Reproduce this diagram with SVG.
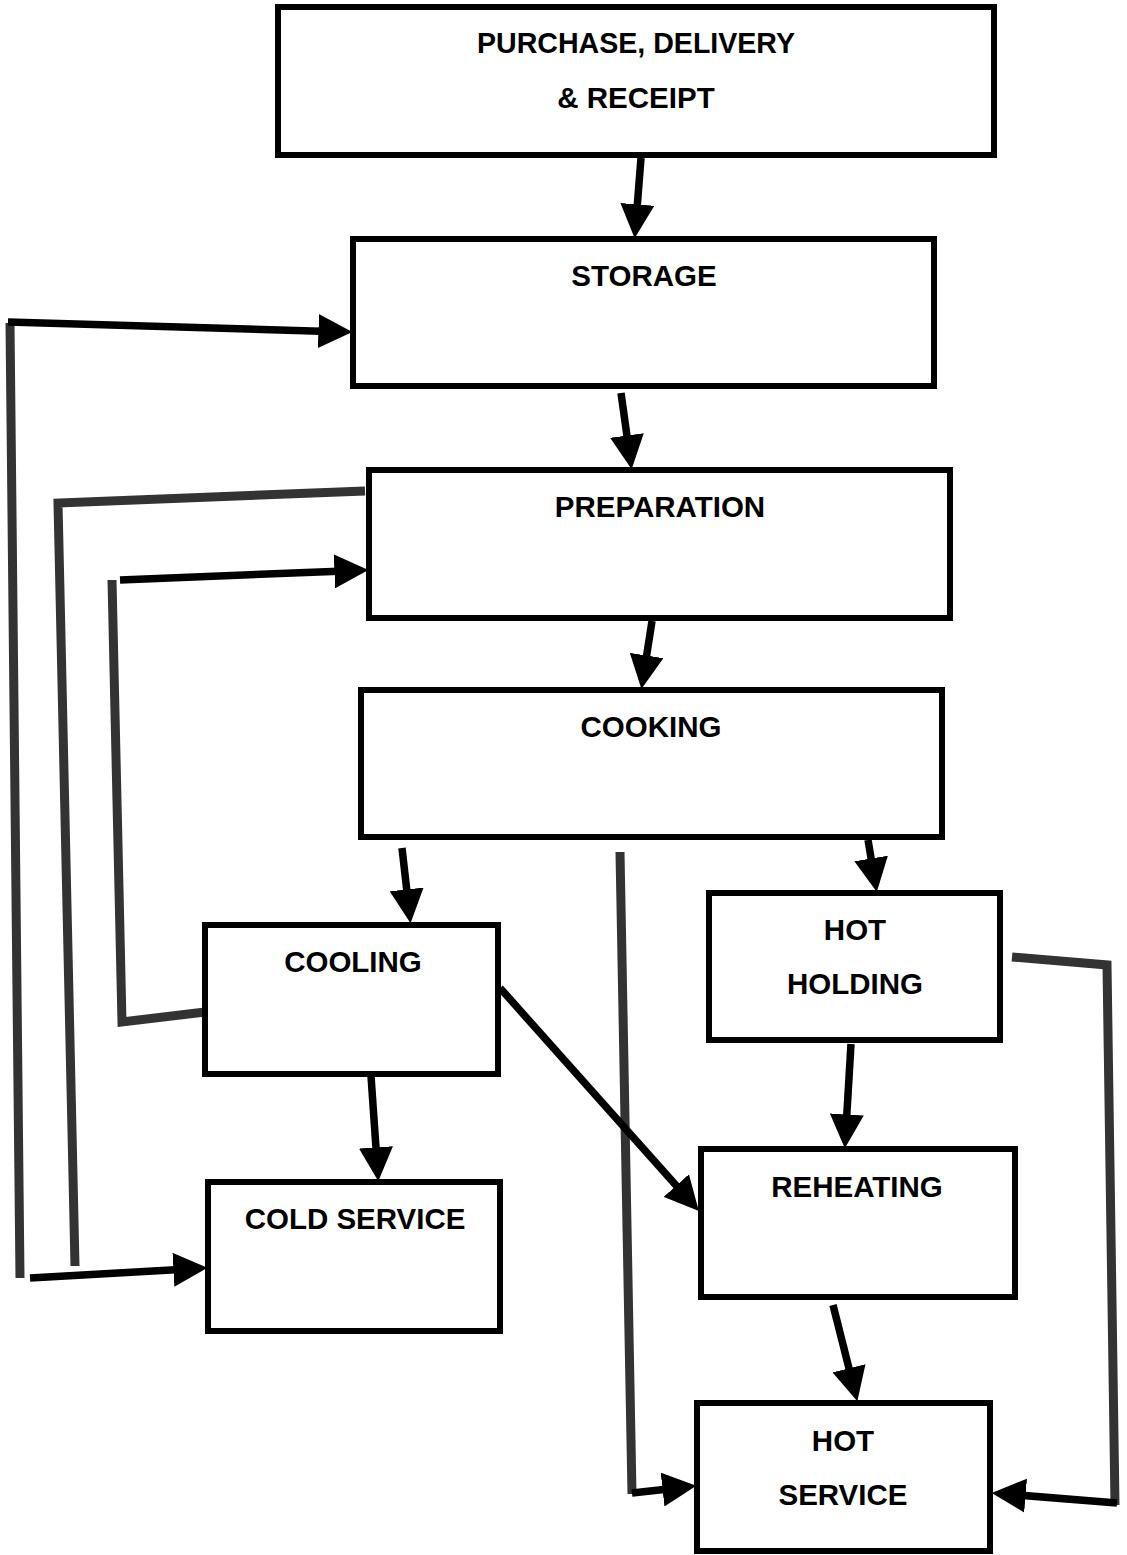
<svg xmlns="http://www.w3.org/2000/svg" width="1127" height="1555" viewBox="0 0 1127 1555">
<style>
.box{fill:#fff;stroke:#000;stroke-width:6}
.lbl{font-family:"Liberation Sans",Arial,sans-serif;font-weight:bold;font-size:29.5px;fill:#000;text-anchor:middle}
.arr{fill:none;stroke:#000;stroke-width:7.5;marker-end:url(#ah)}
.gry{fill:none;stroke:#333;stroke-width:9;stroke-linejoin:miter}
</style>
<defs>
<marker id="ah" markerUnits="userSpaceOnUse" markerWidth="34" markerHeight="34" refX="10" refY="16" orient="auto" viewBox="0 0 32 32">
<path d="M0,0 L32,16 L0,32 z" fill="#000"/>
</marker>
</defs>
<rect width="1127" height="1555" fill="#fff"/>
<g id="connectors">
<polyline class="gry" points="20,1278 10,323"/>
<polyline class="gry" points="365,491 58,503 75,1266"/>
<polyline class="gry" points="205,1012 122,1022 112,580"/>
<polyline class="gry" points="620,852 632,1494"/>
<polyline class="gry" points="1012,957 1107,965 1115,1505"/>
<line class="arr" x1="641" y1="158" x2="636.5" y2="215"/>
<line class="arr" x1="621" y1="393" x2="628.4" y2="446"/>
<line class="arr" x1="652" y1="621" x2="645" y2="666"/>
<line class="arr" x1="402" y1="848" x2="407.9" y2="900"/>
<line class="arr" x1="868" y1="840" x2="872.9" y2="869"/>
<line class="arr" x1="371" y1="1076" x2="376.7" y2="1158"/>
<line class="arr" x1="851" y1="1044" x2="846.2" y2="1125"/>
<line class="arr" x1="500" y1="988" x2="683.3" y2="1193.5"/>
<line class="arr" x1="833" y1="1305" x2="851.6" y2="1378.6"/>
<line class="arr" x1="30" y1="1278" x2="184" y2="1269.2"/>
<line class="arr" x1="8" y1="322" x2="329" y2="331.4"/>
<line class="arr" x1="120" y1="580" x2="345" y2="570.9"/>
<line class="arr" x1="632" y1="1493" x2="673.1" y2="1488.4"/>
<line class="arr" x1="1117" y1="1503" x2="1015" y2="1494.8"/>
</g>
<g id="purchase"><rect class="box" x="278" y="7" width="716" height="148"/><text class="lbl" x="636" y="53" textLength="318" lengthAdjust="spacingAndGlyphs">PURCHASE, DELIVERY</text><text class="lbl" x="636" y="108">&amp; RECEIPT</text></g>
<g id="storage"><rect class="box" x="353" y="239" width="581" height="147"/><text class="lbl" x="644" y="286">STORAGE</text></g>
<g id="preparation"><rect class="box" x="369" y="470" width="581" height="148"/><text class="lbl" x="660" y="517">PREPARATION</text></g>
<g id="cooking"><rect class="box" x="361" y="690" width="581" height="147"/><text class="lbl" x="651" y="737">COOKING</text></g>
<g id="cooling"><rect class="box" x="205" y="925" width="293" height="149"/><text class="lbl" x="353" y="972">COOLING</text></g>
<g id="hot-holding"><rect class="box" x="709" y="893" width="291" height="147"/><text class="lbl" x="855" y="940">HOT</text><text class="lbl" x="855" y="994">HOLDING</text></g>
<g id="cold-service"><rect class="box" x="208" y="1182" width="292" height="149"/><text class="lbl" x="355" y="1229">COLD SERVICE</text></g>
<g id="reheating"><rect class="box" x="701" y="1149" width="314" height="148"/><text class="lbl" x="857" y="1197">REHEATING</text></g>
<g id="hot-service"><rect class="box" x="697" y="1403" width="293" height="148"/><text class="lbl" x="843" y="1451">HOT</text><text class="lbl" x="843" y="1505">SERVICE</text></g>
</svg>
